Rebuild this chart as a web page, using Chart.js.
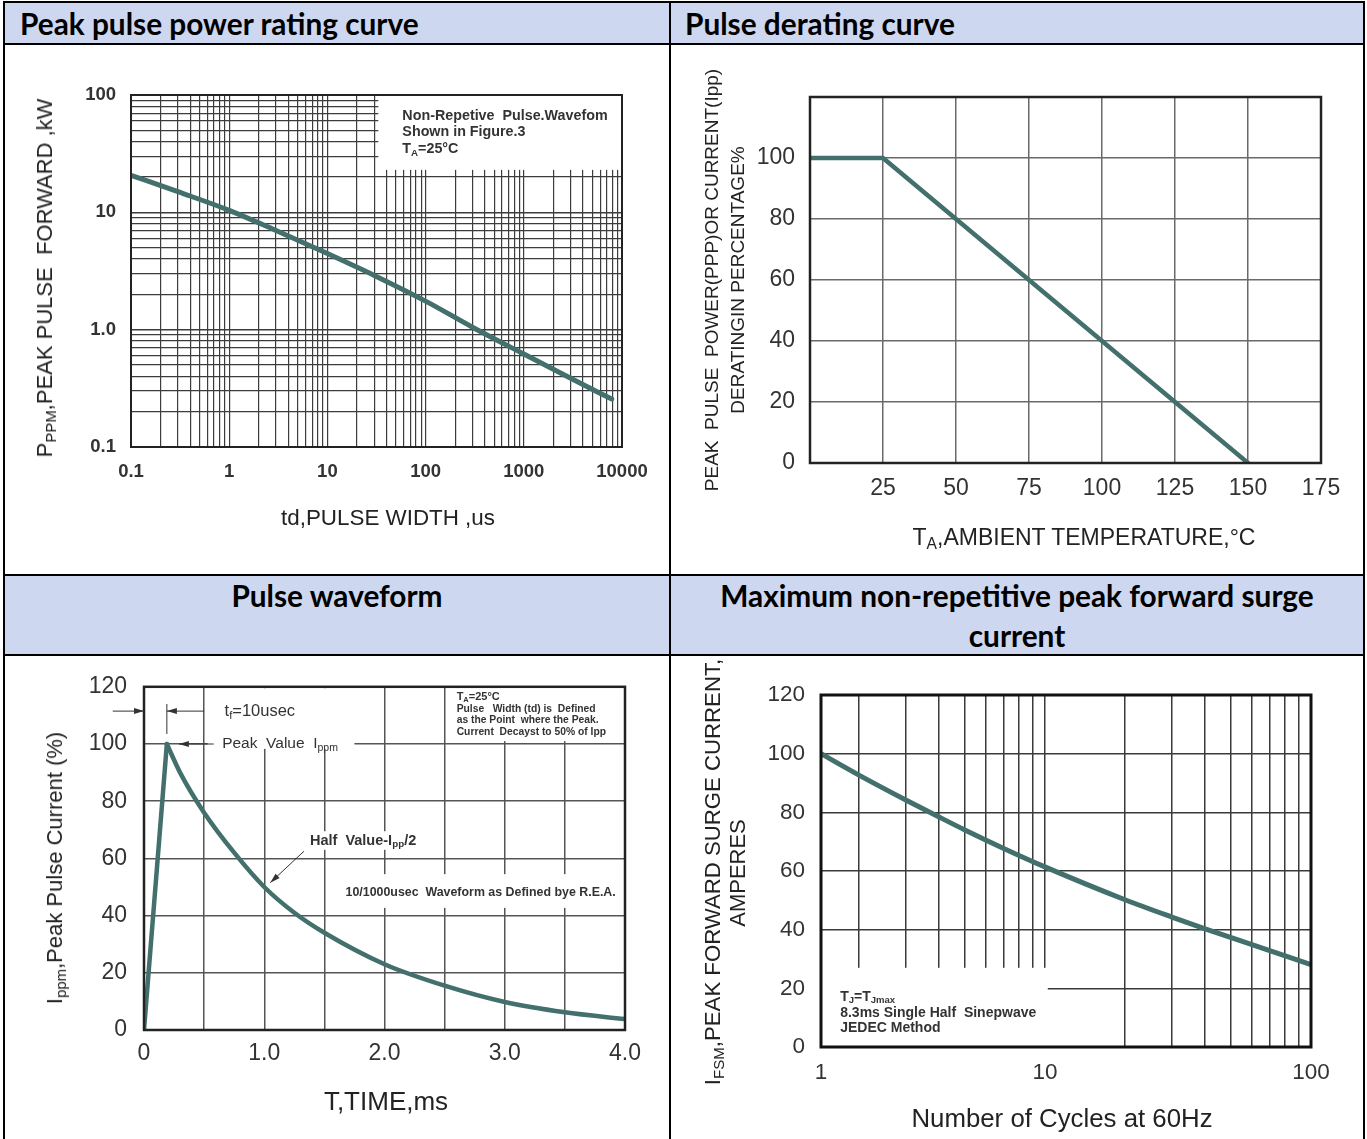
<!DOCTYPE html>
<html>
<head>
<meta charset="utf-8">
<script src="https://cdn.jsdelivr.net/npm/chart.js@4/dist/chart.umd.min.js"></script>
<style>
body { margin: 0; background: #fff; width: 1367px; height: 1139px; overflow: hidden; position: relative; font-family: 'Liberation Sans', Arial, sans-serif; }
.hdr { position: absolute; background: #cdd7ef; font-family: Lato, 'Noto Sans', sans-serif; font-weight: 700; font-size: 29.8px; color: #000; }
.ln { position: absolute; background: #000; }
.cell { position: absolute; }
.ttl { position: absolute; white-space: pre; color: #222; transform: translate(-50%, -50%); line-height: 1; }
.rot { transform: translate(-50%, -50%) rotate(-90deg); }
sub { font-size: 68%; vertical-align: -0.28em; line-height: 0; }
</style>
</head>
<body>

<div class="hdr" style="left:5px;top:3px;width:649px;height:40px;line-height:42px;padding-left:15px;">Peak pulse power rating curve</div>
<div class="hdr" style="left:671px;top:3px;width:678px;height:40px;line-height:42px;padding-left:14px;">Pulse derating curve</div>
<div class="hdr" style="left:5px;top:576px;width:664px;height:78px;line-height:40px;text-align:center;">Pulse waveform</div>
<div class="hdr" style="left:671px;top:576px;width:692px;height:78px;line-height:40px;text-align:center;">Maximum non-repetitive peak forward surge<br>current</div>

<div class="cell" style="left:5px;top:45px;"><canvas id="c1" width="664" height="529"></canvas></div>
<div class="cell" style="left:671px;top:45px;"><canvas id="c2" width="691" height="529"></canvas></div>
<div class="cell" style="left:5px;top:656px;"><canvas id="c3" width="664" height="483"></canvas></div>
<div class="cell" style="left:671px;top:656px;"><canvas id="c4" width="691" height="483"></canvas></div>

<!-- axis titles -->
<div class="ttl rot" style="left:45px;top:278px;font-size:22px;">P<sub>PPM</sub>,PEAK PULSE  FORWARD ,kW</div>
<div class="ttl" style="left:388px;top:518px;font-size:22.4px;">td,PULSE WIDTH ,us</div>
<div class="ttl rot" style="left:711px;top:280px;font-size:19px;">PEAK  PULSE  POWER(PPP)OR CURRENT(Ipp)</div>
<div class="ttl rot" style="left:737px;top:280px;font-size:19px;">DERATINGIN PERCENTAGE%</div>
<div class="ttl" style="left:1084px;top:537px;font-size:23px;">T<sub>A</sub>,AMBIENT TEMPERATURE,°C</div>
<div class="ttl rot" style="left:55px;top:868px;font-size:22px;">I<sub>ppm</sub>,Peak Pulse Current (%)</div>
<div class="ttl" style="left:386px;top:1101px;font-size:26px;">T,TIME,ms</div>
<div class="ttl rot" style="left:713px;top:872px;font-size:22.2px;">I<sub>FSM</sub>,PEAK FORWARD SURGE CURRENT,</div>
<div class="ttl rot" style="left:738px;top:873px;font-size:22px;">AMPERES</div>
<div class="ttl" style="left:1062px;top:1119px;font-size:25.8px;">Number of Cycles at 60Hz</div>

<!-- table rules -->
<div class="ln" style="left:3px;top:1px;width:2px;height:1138px;"></div>
<div class="ln" style="left:1363px;top:1px;width:2px;height:1138px;"></div>
<div class="ln" style="left:669px;top:1px;width:2px;height:1138px;"></div>
<div class="ln" style="left:3px;top:1px;width:1362px;height:2px;"></div>
<div class="ln" style="left:3px;top:43px;width:1362px;height:2px;"></div>
<div class="ln" style="left:3px;top:574px;width:1362px;height:2px;"></div>
<div class="ln" style="left:3px;top:654px;width:1362px;height:2px;"></div>

<script>
// ---- data: peak pulse power rating curve (log-log)
const pulseWidthUs = [0.1, 0.3, 1, 3, 10, 30, 100, 300, 1000, 3000, 7860];
const peakPowerKw  = [20.7, 15.0, 10.4, 7.0, 4.45, 2.9, 1.75, 1.05, 0.62, 0.385, 0.256];
const pwXTicks  = [0.1, 1, 10, 100, 1000, 10000];
const pwXLabels = ['0.1', '1', '10', '100', '1000', '10000'];
const pwYTicks  = [0.1, 1, 10, 100];
const pwYLabels = ['0.1', '1.0', '10', '100'];

// ---- data: pulse derating curve
const ambientTempC = [0, 25, 150];
const deratingPct  = [100, 100, 0];
const drXLabels = ['', '25', '50', '75', '100', '125', '150', '175'];
const drYLabels = ['0', '20', '40', '60', '80', '100', ''];

// ---- data: pulse waveform
const riseTimeMs  = [0, 0.19];
const risePct     = [0, 100];
const decayTimeMs = [0.19, 0.3, 0.5, 0.75, 1.0, 1.25, 1.5, 2.0, 2.5, 3.0, 3.5, 4.0];
const decayPct    = [100, 90, 76, 62, 50, 41, 34, 23, 15.5, 9.8, 6.2, 3.8];
const wfXTicks  = [0, 1, 2, 3, 4];
const wfXLabels = ['0', '1.0', '2.0', '3.0', '4.0'];

// ---- data: max non-repetitive peak forward surge current
const cycleStart = 1.44;   // left edge of the drawn axis, labelled "1"
const cycles     = [cycleStart, 2, 3, 4, 5, 7, 10, 20, 30, 40, 60, 100];
const surgeAmps  = [100, 92.7, 84.2, 78.4, 74.0, 67.7, 61.4, 50.2, 44.3, 40.3, 34.9, 28.1];
const sgXTicks  = [cycleStart, 10, 100];
const sgXLabels = ['1', '10', '100'];

const FONT = "'Liberation Sans', Arial, sans-serif";
const CURVE = '#43706d';

function logGrid(min, max) {
  const out = [];
  for (let d = min; d < max * 0.999; d *= 10) {
    for (let k = 1; k <= 9; k++) out.push(+(d * k).toPrecision(6));
  }
  out.push(max);
  return out;
}

function labelFor(ticks, labels, v) {
  for (let i = 0; i < ticks.length; i++) {
    if (Math.abs(v - ticks[i]) <= Math.abs(ticks[i]) * 1e-6 + 1e-9) return labels[i];
  }
  return '';
}

function rich(ctx, x, y, parts, size, weight, color) {
  let cx = x;
  ctx.textBaseline = 'middle';
  ctx.textAlign = 'left';
  ctx.fillStyle = color || '#333';
  for (const p of parts) {
    const sub = Array.isArray(p);
    const t = sub ? p[0] : p;
    const s = sub ? size * 0.68 : size;
    ctx.font = `${weight} ${s}px ${FONT}`;
    ctx.fillText(t, cx, sub ? y + size * 0.28 : y);
    cx += ctx.measureText(t).width;
  }
}

function arrow(ctx, x1, y1, x2, y2) {
  ctx.strokeStyle = '#333';
  ctx.fillStyle = '#333';
  ctx.lineWidth = 1;
  ctx.beginPath(); ctx.moveTo(x1, y1); ctx.lineTo(x2, y2); ctx.stroke();
  const a = Math.atan2(y2 - y1, x2 - x1), L = 10, W = 3;
  ctx.beginPath();
  ctx.moveTo(x2, y2);
  ctx.lineTo(x2 - L * Math.cos(a) + W * Math.sin(a), y2 - L * Math.sin(a) - W * Math.cos(a));
  ctx.lineTo(x2 - L * Math.cos(a) - W * Math.sin(a), y2 - L * Math.sin(a) + W * Math.cos(a));
  ctx.closePath(); ctx.fill();
}

// frame + annotations plugin factory
function decor(frameColor, frameWidth, boxes, drawTexts) {
  return {
    id: 'decor',
    beforeDatasetsDraw(chart) {
      const { ctx, scales: { x, y } } = chart;
      ctx.save();
      ctx.fillStyle = '#fff';
      for (const b of boxes) {
        const x1 = x.getPixelForValue(b[0]), x2 = x.getPixelForValue(b[1]);
        const y1 = y.getPixelForValue(b[3]), y2 = y.getPixelForValue(b[2]);
        ctx.fillRect(x1, y1, x2 - x1, y2 - y1);
      }
      ctx.restore();
    },
    afterDatasetsDraw(chart) {
      const { ctx, chartArea: a, scales: { x, y } } = chart;
      ctx.save();
      ctx.strokeStyle = frameColor;
      ctx.lineWidth = frameWidth;
      ctx.strokeRect(a.left, a.top, a.right - a.left, a.bottom - a.top);
      if (drawTexts) drawTexts(ctx, v => x.getPixelForValue(v), v => y.getPixelForValue(v));
      ctx.restore();
    }
  };
}

function makeChart(id, cell, plot, datasets, scales, plugin) {
  scales.y.afterFit = s => { s.width = plot.left - cell.left; };
  scales.x.afterFit = s => { s.height = cell.top + cell.height - plot.bottom; };
  return new Chart(document.getElementById(id), {
    type: 'line',
    data: { datasets },
    options: {
      responsive: false,
      animation: false,
      layout: { padding: { left: 0, bottom: 0, top: plot.top - cell.top, right: cell.left + cell.width - plot.right } },
      plugins: { legend: { display: false }, tooltip: { enabled: false } },
      elements: { point: { radius: 0 }, line: { borderCapStyle: 'round', borderJoinStyle: 'round' } },
      scales
    },
    plugins: [plugin]
  });
}

function curve(xs, ys, width, smooth) {
  return {
    data: xs.map((v, i) => ({ x: v, y: ys[i] })),
    borderColor: CURVE, borderWidth: width, fill: false,
    cubicInterpolationMode: smooth ? 'monotone' : 'default', tension: 0
  };
}

const tickFont = (size, weight) => ({ family: FONT, size, weight });

// ---------- chart 1
const pwGridX = logGrid(0.1, 10000);
const pwGridY = logGrid(0.1, 100);
const isDecade = v => Math.abs(Math.log10(v) - Math.round(Math.log10(v))) < 1e-6;
makeChart('c1', { left: 5, top: 45, width: 664, height: 529 }, { left: 131, top: 95, right: 622, bottom: 447 },
  [curve(pulseWidthUs, peakPowerKw, 5, true)],
  {
    x: {
      type: 'logarithmic', min: 0.1, max: 10000,
      afterBuildTicks: s => { s.ticks = pwGridX.map(v => ({ value: v })); },
      grid: { color: '#3c3c3c', lineWidth: 1.2, drawTicks: false },
      border: { display: false },
      ticks: { autoSkip: false, maxRotation: 0, padding: 14, color: '#333', font: tickFont(18.5, 'bold'),
        callback: v => labelFor(pwXTicks, pwXLabels, v) }
    },
    y: {
      type: 'logarithmic', min: 0.1, max: 100,
      afterBuildTicks: s => { s.ticks = pwGridY.map(v => ({ value: v })); },
      grid: { color: '#3c3c3c', lineWidth: c => isDecade(c.tick.value) ? 1.6 : 1.2, drawTicks: false },
      border: { display: false },
      ticks: { autoSkip: false, padding: 15, color: '#333', font: tickFont(18.5, 'bold'),
        callback: v => labelFor(pwYTicks, pwYLabels, v) }
    }
  },
  decor('#222', 2, [[33, 10000, 23, 100]], (ctx, px, py) => {
    const x0 = px(58);
    rich(ctx, x0, py(66), ['Non-Repetive  Pulse.Wavefom'], 14.3, 'bold');
    rich(ctx, x0, py(48), ['Shown in Figure.3'], 14.3, 'bold');
    rich(ctx, x0, py(34.5), ['T', ['A'], '=25°C'], 14.3, 'bold');
  })
);

// ---------- chart 2
makeChart('c2', { left: 671, top: 45, width: 691, height: 529 }, { left: 810, top: 97, right: 1321, bottom: 463 },
  [curve(ambientTempC, deratingPct, 4.5, false)],
  {
    x: {
      type: 'linear', min: 0, max: 175,
      grid: { color: '#6a6a6a', lineWidth: 1.5, drawTicks: false }, border: { display: false },
      ticks: { stepSize: 25, autoSkip: false, maxRotation: 0, padding: 12, color: '#333', font: tickFont(23),
        callback: (v, i) => drXLabels[i] }
    },
    y: {
      type: 'linear', min: 0, max: 120,
      grid: { color: '#6a6a6a', lineWidth: 1.5, drawTicks: false }, border: { display: false },
      ticks: { stepSize: 20, autoSkip: false, padding: 15, color: '#333', font: tickFont(23),
        callback: (v, i) => drYLabels[i] }
    }
  },
  decor('#222', 2.5, [], null)
);

// ---------- chart 3
makeChart('c3', { left: 5, top: 656, width: 664, height: 483 }, { left: 144, top: 684, right: 625, bottom: 1030 },
  [curve(riseTimeMs, risePct, 4.5, false), curve(decayTimeMs, decayPct, 4.5, true)],
  {
    x: {
      type: 'linear', min: 0, max: 4,
      grid: { color: '#555', lineWidth: 1.5, drawTicks: false }, border: { display: false },
      ticks: { stepSize: 0.5, autoSkip: false, maxRotation: 0, padding: 10, color: '#333', font: tickFont(23),
        callback: v => labelFor(wfXTicks, wfXLabels, v) }
    },
    y: {
      type: 'linear', min: 0, max: 120,
      grid: { color: '#555', lineWidth: 1.5, drawTicks: false }, border: { display: false },
      ticks: { stepSize: 20, autoSkip: false, padding: 17, color: '#333', font: tickFont(23) }
    }
  },
  decor('#222', 2.5, [[2.55, 4, 101, 120], [0.53, 1.75, 98.3, 119.5], [1.35, 2.3, 63, 69.5], [1.65, 4, 42.7, 54.5]],
    (ctx, px, py) => {
      // rise time marker
      const yt = py(111.5);
      arrow(ctx, px(-0.26), yt, px(0), yt);
      arrow(ctx, px(0.5), yt, px(0.19), yt);
      ctx.beginPath(); ctx.moveTo(px(0.19), py(114)); ctx.lineTo(px(0.19), py(103.5)); ctx.stroke();
      rich(ctx, px(0.67), yt, ['t', ['f'], '=10usec'], 16.5, 'normal');
      // peak value
      arrow(ctx, px(0.58), py(100), px(0.29), py(100));
      rich(ctx, px(0.65), py(100), ['Peak  Value  I', ['ppm']], 15.5, 'normal');
      // half value
      rich(ctx, px(1.38), py(66.2), ['Half  Value-I', ['pp'], '/2'], 14.5, 'bold');
      arrow(ctx, px(1.33), py(62.5), px(1.05), py(51.5));
      rich(ctx, px(1.676), py(48.2), ['10/1000usec  Waveform as Defined bye R.E.A.'], 12.4, 'bold');
      // conditions
      const xc = px(2.6);
      rich(ctx, xc, py(116.5), ['T', ['A'], '=25°C'], 11, 'bold');
      rich(ctx, xc, py(112.2), ['Pulse   Width (td) is  Defined'], 10.3, 'bold');
      rich(ctx, xc, py(108.2), ['as the Point  where the Peak.'], 10.3, 'bold');
      rich(ctx, xc, py(104.2), ['Current  Decayst to 50% of Ipp'], 10.3, 'bold');
    })
);

// ---------- chart 4
const sgGridX = [cycleStart].concat(logGrid(1, 100).slice(1));
makeChart('c4', { left: 671, top: 656, width: 691, height: 483 }, { left: 821, top: 695, right: 1311, bottom: 1047 },
  [curve(cycles, surgeAmps, 5, true)],
  {
    x: {
      type: 'logarithmic', min: cycleStart, max: 100,
      afterBuildTicks: s => { s.ticks = sgGridX.map(v => ({ value: v })); },
      grid: { color: '#3a3a3a', lineWidth: 1.5, drawTicks: false }, border: { display: false },
      ticks: { autoSkip: false, maxRotation: 0, padding: 12, color: '#333', font: tickFont(22.5),
        callback: v => labelFor(sgXTicks, sgXLabels, v) }
    },
    y: {
      type: 'linear', min: 0, max: 120,
      grid: { color: '#3a3a3a', lineWidth: 1.5, drawTicks: false }, border: { display: false },
      ticks: { stepSize: 20, autoSkip: false, padding: 16, color: '#333', font: tickFont(22.5) }
    }
  },
  decor('#111', 3, [[cycleStart, 10.25, 0, 27]], (ctx, px, py) => {
    const x0 = px(1.7);
    rich(ctx, x0, py(17.1), ['T', ['J'], '=T', ['Jmax']], 14, 'bold');
    rich(ctx, x0, py(11.7), ['8.3ms Single Half  Sinepwave'], 14, 'bold');
    rich(ctx, x0, py(6.5), ['JEDEC Method'], 14, 'bold');
  })
);
</script>
</body>
</html>
